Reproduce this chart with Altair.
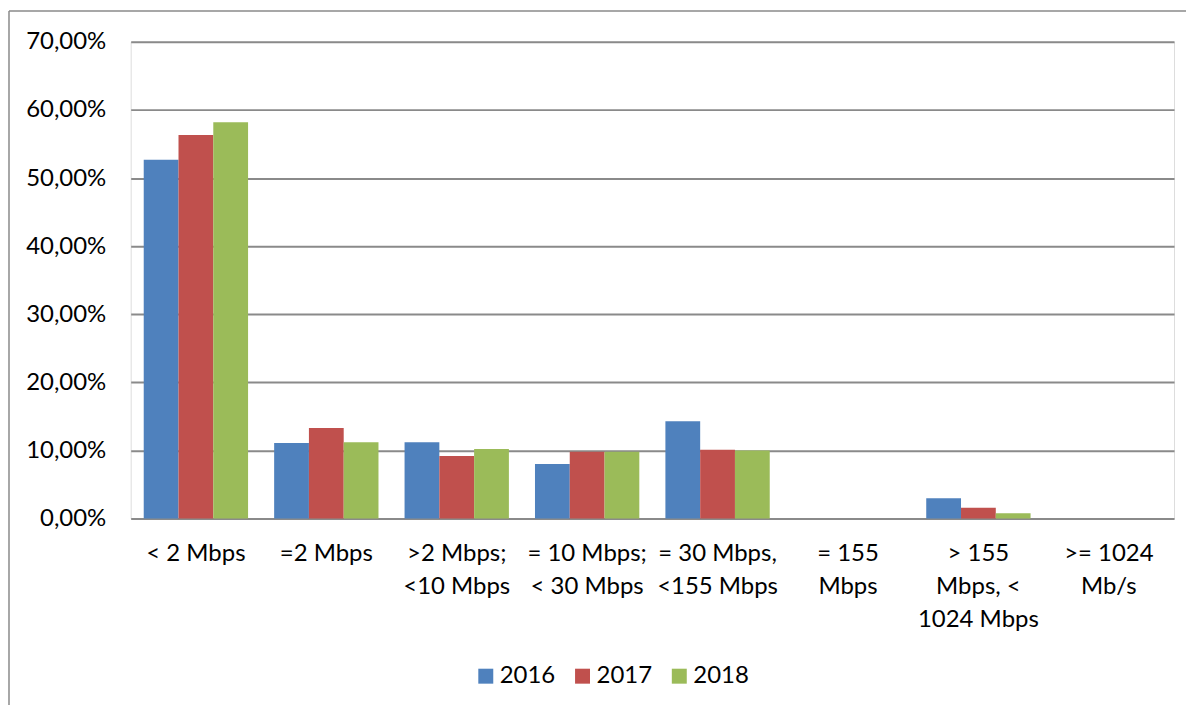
import altair as alt
import pandas as pd

categories = [
    "< 2 Mbps",
    "=2 Mbps",
    ">2 Mbps;\n<10 Mbps",
    "= 10 Mbps;\n< 30 Mbps",
    "= 30 Mbps,\n<155 Mbps",
    "= 155\nMbps",
    "> 155\nMbps, <\n1024 Mbps",
    ">= 1024\nMb/s",
]
years = ["2016", "2017", "2018"]
colors = ["#4F81BD", "#C0504D", "#9BBB59"]

v2016 = [52.7, 11.1, 11.2, 8.0, 14.3, 0.0, 3.0, 0.0]
v2017 = [56.3, 13.3, 9.2, 9.8, 10.1, 0.0, 1.6, 0.0]
v2018 = [58.2, 11.2, 10.2, 9.8, 10.0, 0.0, 0.8, 0.0]
y_ticks = [0, 10, 20, 30, 40, 50, 60, 70]

rows = []
for yr, vals in zip(years, [v2016, v2017, v2018]):
    for c, v in zip(categories, vals):
        rows.append({"category": c, "year": yr, "value": v})
df = pd.DataFrame(rows)

FONT = "Lato"
GRID = "#8A8A8A"

bars = alt.Chart(df).mark_bar().encode(
    x=alt.X(
        "category:N",
        sort=categories,
        scale=alt.Scale(paddingInner=0.2, paddingOuter=0.1),
        axis=alt.Axis(
            title=None,
            labelAngle=0,
            labelExpr="split(datum.label, '\\n')",
            labelFont=FONT,
            labelFontSize=24,
            labelColor="#000000",
            labelLineHeight=33,
            labelPadding=23,
            ticks=False,
            tickSize=0,
            domain=False,
            labelLimit=300,
        ),
    ),
    xOffset=alt.XOffset("year:N", sort=years, scale=alt.Scale(paddingInner=0, paddingOuter=0)),
    y=alt.Y(
        "value:Q",
        scale=alt.Scale(domain=[0, 70], nice=False),
        axis=alt.Axis(
            title=None,
            values=y_ticks,
            labelExpr="replace(format(datum.value, '.2f'), '.', ',') + '%'",
            labelFont=FONT,
            labelFontSize=24,
            labelColor="#000000",
            labelPadding=25,
            ticks=False,
            tickSize=0,
            domain=False,
            grid=True,
            gridColor=GRID,
            gridWidth=2,
        ),
    ),
    color=alt.Color(
        "year:N",
        sort=years,
        scale=alt.Scale(domain=years, range=colors),
        legend=alt.Legend(
            title=None,
            orient="none",
            direction="horizontal",
            legendX=344,
            legendY=624,
            symbolType="square",
            symbolSize=225,
            symbolStrokeWidth=0,
            labelFont=FONT,
            labelFontSize=24,
            labelColor="#000000",
            labelOffset=2,
            columnPadding=15,
            padding=0,
        ),
    ),
)

frame_df = pd.DataFrame({"k": [0]})
frame_left = alt.Chart(frame_df).mark_rule(color="#8A8A8A", strokeWidth=1.5).encode(
    x=alt.value(-122), y=alt.value(-31), y2=alt.value(720)
)
frame_top = alt.Chart(frame_df).mark_rule(color="#8A8A8A", strokeWidth=1.5).encode(
    x=alt.value(-122), x2=alt.value(1100), y=alt.value(-31)
)

chart = (
    alt.layer(bars, frame_left, frame_top)
    .properties(
        width=1046,
        height=478,
        autosize=alt.AutoSizeParams(type="none"),
        padding={"left": 123, "top": 33, "right": 12, "bottom": 186},
        background="white",
    )
    .configure_view(stroke=None)
    .configure(font=FONT)
)

chart.save("out.html", embed_options={"renderer": "svg", "actions": False})
